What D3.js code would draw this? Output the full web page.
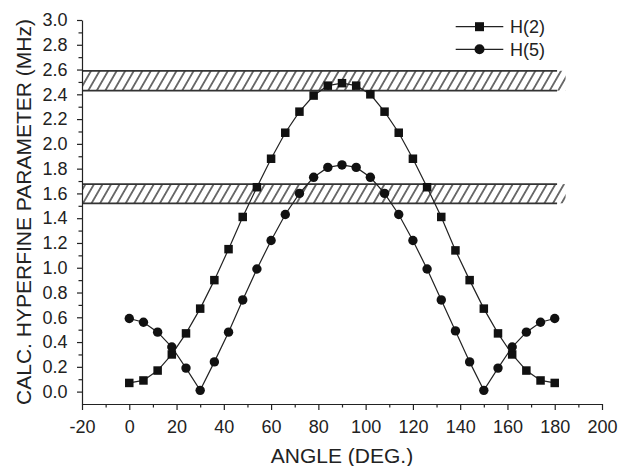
<!DOCTYPE html>
<html>
<head>
<meta charset="utf-8">
<script src="https://cdn.jsdelivr.net/npm/d3@7"></script>
<style>
  body { margin: 0; background: #fff; }
  text { font-family: "Liberation Sans", Arial, sans-serif; fill: #222; }
  .axis path, .axis line { stroke: #222; stroke-width: 1.2; }
</style>
</head>
<body>
<div id="chart"></div>
<script>
// angle (deg) and calculated hyperfine parameters (MHz)
var angles = [0, 6, 12, 18, 24, 30, 36, 42, 48, 54, 60, 66, 72, 78, 84, 90,
              96, 102, 108, 114, 120, 126, 132, 138, 144, 150, 156, 162, 168, 174, 180];
var h2 = [0.07, 0.09, 0.17, 0.30, 0.47, 0.67, 0.90, 1.15, 1.41, 1.65, 1.88, 2.09, 2.26, 2.39, 2.47, 2.49,
          2.47, 2.40, 2.26, 2.09, 1.88, 1.65, 1.41, 1.14, 0.90, 0.67, 0.47, 0.30, 0.17, 0.09, 0.07];
var h5 = [0.59, 0.56, 0.48, 0.36, 0.19, 0.01, 0.24, 0.48, 0.74, 0.99, 1.22, 1.43, 1.60, 1.73, 1.81, 1.83,
          1.81, 1.73, 1.60, 1.43, 1.22, 0.99, 0.74, 0.49, 0.24, 0.01, 0.19, 0.36, 0.48, 0.56, 0.59];
var seriesNames = ["H(2)", "H(5)"];

// experimental ranges (hatched bands)
var bandLow = [2.43, 1.52];
var bandHigh = [2.59, 1.675];
var bandEnd = 181;

var xTicks = [-20, 0, 20, 40, 60, 80, 100, 120, 140, 160, 180, 200];
var xMinor = [-10, 10, 30, 50, 70, 90, 110, 130, 150, 170, 190];
var yTicks = [0.0, 0.2, 0.4, 0.6, 0.8, 1.0, 1.2, 1.4, 1.6, 1.8, 2.0, 2.2, 2.4, 2.6, 2.8, 3.0];
var yMinor = [0.1, 0.3, 0.5, 0.7, 0.9, 1.1, 1.3, 1.5, 1.7, 1.9, 2.1, 2.3, 2.5, 2.7, 2.9];

var margin = {top: 20, right: 16, bottom: 62, left: 82}
  , W = 618, H = 466
  , width = W - margin.left - margin.right
  , height = H - margin.top - margin.bottom;

var x = d3.scaleLinear().domain([-20, 200]).range([0, width]);
var y = d3.scaleLinear().domain([-0.1, 3.0]).range([height, 0]);

var svg = d3.select("#chart").append("svg")
    .attr("width", W)
    .attr("height", H);

// hatch pattern
var defs = svg.append("defs");
defs.append("pattern")
    .attr("id", "hatch")
    .attr("patternUnits", "userSpaceOnUse")
    .attr("width", 7.4)
    .attr("height", 10)
    .attr("patternTransform", "rotate(30)")
  .append("line")
    .attr("x1", 3.7).attr("y1", -2)
    .attr("x2", 3.7).attr("y2", 12)
    .attr("stroke", "#444")
    .attr("stroke-width", 1.5);

var g = svg.append("g")
    .attr("transform", "translate(" + margin.left + "," + margin.top + ")");

// bands
bandLow.forEach(function(lo, i) {
  var hi = bandHigh[i];
  g.append("rect")
    .attr("x", x(-20))
    .attr("y", y(hi))
    .attr("width", x(bandEnd + 3.6) - x(-20))
    .attr("height", y(lo) - y(hi))
    .attr("fill", "url(#hatch)");
  [lo, hi].forEach(function(v) {
    g.append("line")
      .attr("x1", x(-20)).attr("x2", x(bandEnd))
      .attr("y1", y(v)).attr("y2", y(v))
      .attr("stroke", "#333")
      .attr("stroke-width", 1.8);
  });
});

// axes (plain hyphen for negatives, like the original)
var fmtX = function(d) { return String(d); };
var fmtY = function(d) { return d.toFixed(1); };

g.append("g")
    .attr("class", "axis")
    .attr("transform", "translate(0," + height + ")")
    .call(d3.axisBottom(x).tickValues(xMinor).tickSize(3.5).tickFormat(""))
    .select(".domain").remove();
g.append("g")
    .attr("class", "axis")
    .attr("transform", "translate(0," + height + ")")
    .call(d3.axisBottom(x).tickValues(xTicks).tickSize(6).tickSizeOuter(0).tickPadding(10).tickFormat(fmtX))
    .selectAll("text").style("font-size", "18px");

g.append("g")
    .attr("class", "axis")
    .call(d3.axisLeft(y).tickValues(yMinor).tickSize(3.5).tickFormat(""))
    .select(".domain").remove();
g.append("g")
    .attr("class", "axis")
    .call(d3.axisLeft(y).tickValues(yTicks).tickSize(5).tickSizeOuter(0).tickPadding(9.5).tickFormat(fmtY))
    .selectAll("text").style("font-size", "18px");

// axis titles
svg.append("text")
    .attr("x", margin.left + width / 2)
    .attr("y", 462.5)
    .attr("text-anchor", "middle")
    .style("font-size", "21px")
    .text("ANGLE (DEG.)");

svg.append("text")
    .attr("transform", "translate(31," + (margin.top + height / 2) + ") rotate(-90)")
    .attr("text-anchor", "middle")
    .style("font-size", "21px")
    .text("CALC. HYPERFINE PARAMETER (MHz)");

// series
var line = d3.line()
    .x(function(d) { return x(d[0]); })
    .y(function(d) { return y(d[1]); });

var d2 = angles.map(function(a, i) { return [a, h2[i]]; });
var d5 = angles.map(function(a, i) { return [a, h5[i]]; });

[d2, d5].forEach(function(d) {
  g.append("path")
    .datum(d)
    .attr("fill", "none")
    .attr("stroke", "#222")
    .attr("stroke-width", 1.2)
    .attr("d", line);
});

var sq = 8.5;
g.selectAll(".sq")
    .data(d2)
    .enter().append("rect")
    .attr("class", "sq")
    .attr("x", function(d) { return x(d[0]) - sq / 2; })
    .attr("y", function(d) { return y(d[1]) - sq / 2; })
    .attr("width", sq)
    .attr("height", sq)
    .attr("fill", "#111");

g.selectAll(".dot")
    .data(d5)
    .enter().append("circle")
    .attr("class", "dot")
    .attr("cx", function(d) { return x(d[0]); })
    .attr("cy", function(d) { return y(d[1]); })
    .attr("r", 4.7)
    .attr("fill", "#111");

// legend
var legY = [26.7, 49.3];
seriesNames.forEach(function(name, i) {
  var lg = svg.append("g");
  lg.append("line")
    .attr("x1", 455.7).attr("x2", 503.3)
    .attr("y1", legY[i]).attr("y2", legY[i])
    .attr("stroke", "#222").attr("stroke-width", 1.2);
  if (i == 0) {
    lg.append("rect")
      .attr("x", 479.5 - 4.5).attr("y", legY[i] - 4.5)
      .attr("width", 9).attr("height", 9)
      .attr("fill", "#111");
  } else {
    lg.append("circle")
      .attr("cx", 479.5).attr("cy", legY[i])
      .attr("r", 5)
      .attr("fill", "#111");
  }
  lg.append("text")
    .attr("x", 510)
    .attr("y", legY[i])
    .attr("dy", "0.36em")
    .style("font-size", "18px")
    .text(name);
});
</script>
</body>
</html>
